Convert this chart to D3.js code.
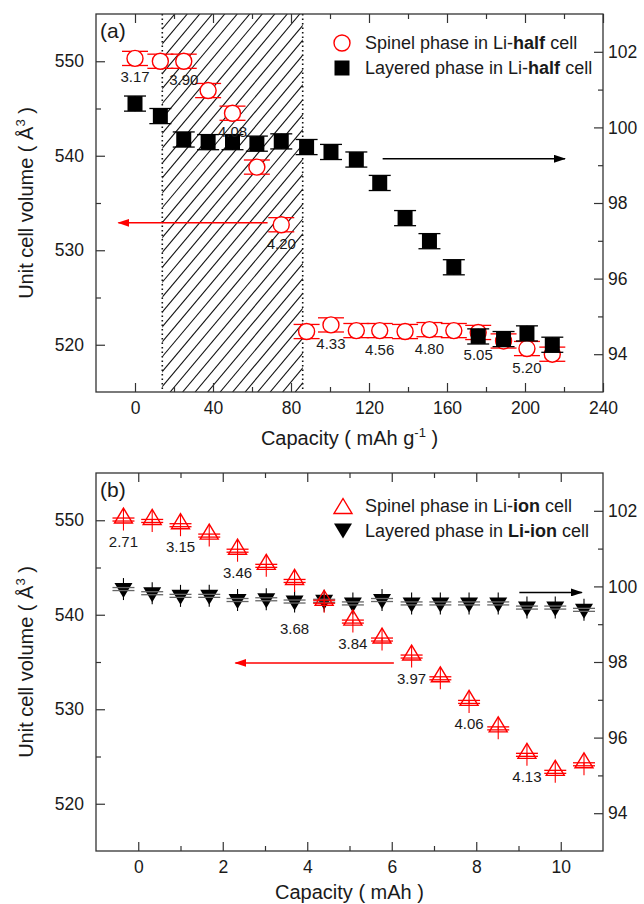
<!DOCTYPE html>
<html>
<head>
<meta charset="utf-8">
<script src="https://cdn.jsdelivr.net/npm/d3@7"></script>
<style>
  body { margin: 0; background: #fff; }
  text { font-family: "Liberation Sans", Arial, sans-serif; fill: #1a1a1a; }
</style>
</head>
<body>
<svg id="chart" width="644" height="904"></svg>
<script>
// ---- panel (a): Li-half cell, capacity in mAh/g
const halfCapacity = [0, 13, 25, 37.5, 50, 62.5, 75, 88, 100.5, 113.5, 125.5, 138.5, 151, 163.5, 176, 189, 201, 214];
const halfSpinel   = [550.3, 550.0, 550.0, 546.9, 544.5, 538.8, 532.7, 521.4, 522.1, 521.5, 521.5, 521.4, 521.6, 521.5, 521.3, 520.4, 519.6, 519.0];
const halfLayered  = [100.63, 100.3, 99.68, 99.61, 99.61, 99.57, 99.63, 99.48, 99.35, 99.15, 98.53, 97.6, 96.99, 96.3, 94.47, 94.4, 94.55, 94.25];
const halfVoltage  = ['3.17', '3.90', '4.08', '4.20', '4.33', '4.56', '4.80', '5.05', '5.20'];
const halfVoltIdx  = [0, 2, 4, 6, 8, 10, 12, 14, 16];
const halfHatch    = [14, 86];               // two-phase region (mAh/g)

// ---- panel (b): Li-ion cell, capacity in mAh
const ionCapacity = [-0.35, 0.33, 1.0, 1.68, 2.35, 3.03, 3.7, 4.4, 5.08, 5.77, 6.47, 7.15, 7.83, 8.52, 9.2, 9.87, 10.55];
const ionSpinel   = [550.5, 550.35, 549.9, 548.8, 547.2, 545.6, 544.0, 541.8, 539.7, 537.8, 536.0, 533.7, 531.2, 528.4, 525.6, 523.8, 524.6];
const ionLayered  = [99.89, 99.78, 99.71, 99.71, 99.6, 99.62, 99.56, 99.58, 99.51, 99.6, 99.51, 99.51, 99.51, 99.51, 99.4, 99.4, 99.34];
const ionVoltage  = ['2.71', '3.15', '3.46', '3.68', '3.84', '3.97', '4.06', '4.13'];
const ionVoltIdx  = [0, 2, 4, 6, 8, 10, 12, 14];

// axes
const volDomain = [515, 555];
const volTicks = [520, 530, 540, 550];
const volMinor = [525, 535, 545];
const latDomain = [93, 103];
const latTicks = [94, 96, 98, 100, 102];
const latMinor = [95, 97, 99, 101];

const RED = '#ff0000';
const svg = d3.select('#chart');
const left = 96, right = 603;

function styleAxis(g, size) {
  g.select('.domain').remove();
  g.selectAll('line').attr('stroke', '#333').attr('stroke-width', 1.2);
  g.attr('font-family', null).attr('font-size', null);
  g.selectAll('text').style('font-size', size + 'px').attr('fill', '#1a1a1a');
}

function drawPanel(p) {
  const x = d3.scaleLinear().domain(p.xDomain).range([left, right]);
  const yL = d3.scaleLinear().domain(volDomain).range([p.bottom, p.top]);
  const yR = d3.scaleLinear().domain(latDomain).range([p.bottom, p.top]);
  const g = svg.append('g');

  // hatched region (panel a only)
  if (p.hatch) {
    const x0 = x(p.hatch[0]), x1 = x(p.hatch[1]);
    const cid = 'clip' + p.name;
    g.append('clipPath').attr('id', cid).append('rect')
      .attr('x', x0).attr('y', p.top).attr('width', x1 - x0).attr('height', p.bottom - p.top);
    const H = p.bottom - p.top, run = H / Math.tan(50 * Math.PI / 180);
    const hg = g.append('g').attr('clip-path', `url(#${cid})`);
    d3.range(x0 - run, x1, 12.5).forEach(s => {
      hg.append('line').attr('x1', s).attr('y1', p.bottom).attr('x2', s + run).attr('y2', p.top)
        .attr('stroke', '#111').attr('stroke-width', 1.1);
    });
    [x0, x1].forEach(v => g.append('line').attr('x1', v).attr('x2', v).attr('y1', p.top).attr('y2', p.bottom)
      .attr('stroke', '#111').attr('stroke-width', 1.6).attr('stroke-dasharray', '1.5,3'));
  }

  // ticks (inward, all sides)
  const bx = g.append('g').attr('transform', `translate(0,${p.bottom})`)
    .call(d3.axisBottom(x).tickValues(p.xTicks).tickSize(-9).tickPadding(9.5).tickSizeOuter(0));
  styleAxis(bx, 17.5);
  const bxm = g.append('g').attr('transform', `translate(0,${p.bottom})`)
    .call(d3.axisBottom(x).tickValues(p.xMinor).tickSize(-5).tickFormat('').tickSizeOuter(0));
  styleAxis(bxm, 17.5);
  const tx = g.append('g').attr('transform', `translate(0,${p.top})`)
    .call(d3.axisTop(x).tickValues(p.xTicks).tickSize(-9).tickFormat('').tickSizeOuter(0));
  styleAxis(tx, 17.5);
  const txm = g.append('g').attr('transform', `translate(0,${p.top})`)
    .call(d3.axisTop(x).tickValues(p.xMinor).tickSize(-5).tickFormat('').tickSizeOuter(0));
  styleAxis(txm, 17.5);
  const ly = g.append('g').attr('transform', `translate(${left},0)`)
    .call(d3.axisLeft(yL).tickValues(volTicks).tickSize(-9).tickPadding(12).tickSizeOuter(0));
  styleAxis(ly, 17.5);
  const lym = g.append('g').attr('transform', `translate(${left},0)`)
    .call(d3.axisLeft(yL).tickValues(volMinor).tickSize(-5).tickFormat('').tickSizeOuter(0));
  styleAxis(lym, 17.5);
  const ry = g.append('g').attr('transform', `translate(${right},0)`)
    .call(d3.axisRight(yR).tickValues(latTicks).tickSize(-9).tickPadding(5).tickSizeOuter(0));
  styleAxis(ry, 17.5);
  const rym = g.append('g').attr('transform', `translate(${right},0)`)
    .call(d3.axisRight(yR).tickValues(latMinor).tickSize(-5).tickFormat('').tickSizeOuter(0));
  styleAxis(rym, 17.5);

  g.append('rect').attr('x', left).attr('y', p.top).attr('width', right - left).attr('height', p.bottom - p.top)
    .attr('fill', 'none').attr('stroke', '#333').attr('stroke-width', 1.3);

  // panel label
  g.append('text').attr('x', left + 4).attr('y', p.top + 24).style('font-size', '21px').text(p.label);

  // axis titles
  const yt = g.append('text').attr('transform', `translate(33,${(p.top + p.bottom) / 2}) rotate(-90)`)
    .attr('text-anchor', 'middle').style('font-size', '20px');
  yt.append('tspan').text('Unit cell volume ( Å');
  yt.append('tspan').attr('dy', -8).style('font-size', '13px').text('3');
  yt.append('tspan').attr('dy', 8).text(' )');
  const xt = g.append('text').attr('x', (left + right) / 2).attr('y', p.bottom + p.titleGap)
    .attr('text-anchor', 'middle').style('font-size', '20px');
  xt.append('tspan').text(p.xUnit);
  if (p.xSup) {
    xt.append('tspan').attr('dy', -8).style('font-size', '13px').text(p.xSup);
    xt.append('tspan').attr('dy', 8).text(' )');
  } else {
    xt.append('tspan').text(' )');
  }

  // arrows
  const defs = g.append('defs');
  [['r', RED], ['k', '#000']].forEach(([k, c]) => {
    defs.append('marker').attr('id', `head${p.name}${k}`).attr('viewBox', '0 0 12 8')
      .attr('refX', 11).attr('refY', 4).attr('markerWidth', 12).attr('markerHeight', 8)
      .attr('markerUnits', 'userSpaceOnUse').attr('orient', 'auto')
      .append('path').attr('d', 'M0,0 L12,4 L0,8 Z').attr('fill', c);
  });
  g.append('line').attr('x1', x(p.redArrow[0])).attr('x2', x(p.redArrow[1]))
    .attr('y1', yL(p.redArrow[2])).attr('y2', yL(p.redArrow[2]))
    .attr('stroke', RED).attr('stroke-width', 1.5).attr('marker-end', `url(#head${p.name}r)`);
  g.append('line').attr('x1', x(p.blackArrow[0])).attr('x2', x(p.blackArrow[1]))
    .attr('y1', yR(p.blackArrow[2])).attr('y2', yR(p.blackArrow[2]))
    .attr('stroke', '#000').attr('stroke-width', 1.5).attr('marker-end', `url(#head${p.name}k)`);

  return { g, x, yL, yR };
}

function errBar(g, cx, ya, yb, capW, color, capColor) {
  g.append('line').attr('x1', cx).attr('x2', cx).attr('y1', ya).attr('y2', yb)
    .attr('stroke', color).attr('stroke-width', 1.1);
  [ya, yb].forEach(v => g.append('line').attr('x1', cx - capW / 2).attr('x2', cx + capW / 2)
    .attr('y1', v).attr('y2', v).attr('stroke', capColor || color).attr('stroke-width', 1.3));
}

const triUp = 'M0,-7.5 L9,7.5 L-9,7.5 Z';
const triDown = 'M0,7.5 L9,-7.5 L-9,-7.5 Z';

function voltLabels(g, xs, ys, ysOther, idx, labels, gap) {
  idx.forEach((i, k) => {
    let base = ys[i];
    // drop the label below the other series when it sits right underneath
    if (ysOther[i] > base && ysOther[i] - base < 28) base = ysOther[i];
    g.append('text').attr('x', xs[i]).attr('y', base + gap).attr('text-anchor', 'middle')
      .style('font-size', '15px').text(labels[k]);
  });
}

// ---------- panel (a)
const A = drawPanel({
  name: 'a', label: '(a)', top: 14, bottom: 392, titleGap: 53,
  xDomain: [-20, 240], xTicks: d3.range(0, 241, 40), xMinor: d3.range(20, 221, 40),
  hatch: halfHatch, xUnit: 'Capacity ( mAh g', xSup: '-1',
  redArrow: [68, -8.5, 532.9], blackArrow: [127, 220.5, 99.17]
});
{
  const { g, x, yL, yR } = A;
  const cs = halfCapacity.map(x), ys = halfSpinel.map(yL), yl = halfLayered.map(yR);
  halfCapacity.forEach((c, i) => {
    errBar(g, cs[i], yL(halfSpinel[i] + 0.75), yL(halfSpinel[i] - 0.75), 26, RED);
    g.append('circle').attr('cx', cs[i]).attr('cy', ys[i]).attr('r', 8)
      .attr('fill', '#fff').attr('stroke', RED).attr('stroke-width', 1.4);
  });
  halfCapacity.forEach((c, i) => {
    errBar(g, cs[i], yR(halfLayered[i] + 0.2), yR(halfLayered[i] - 0.2), 22, '#000');
    g.append('rect').attr('x', cs[i] - 7.5).attr('y', yl[i] - 7.5).attr('width', 15).attr('height', 15).attr('fill', '#000');
  });
  voltLabels(g, cs, ys, yl, halfVoltIdx, halfVoltage, 24);

  // legend
  g.append('circle').attr('cx', 342).attr('cy', 43).attr('r', 8).attr('fill', '#fff').attr('stroke', RED).attr('stroke-width', 1.4);
  g.append('rect').attr('x', 334.5).attr('y', 60.5).attr('width', 15).attr('height', 15).attr('fill', '#000');
  const l1 = g.append('text').attr('x', 365).attr('y', 49).style('font-size', '18px');
  l1.append('tspan').text('Spinel phase in Li-');
  l1.append('tspan').style('font-weight', 'bold').text('half');
  l1.append('tspan').text(' cell');
  const l2 = g.append('text').attr('x', 365).attr('y', 74).style('font-size', '18px');
  l2.append('tspan').text('Layered phase in Li-');
  l2.append('tspan').style('font-weight', 'bold').text('half');
  l2.append('tspan').text(' cell');
}

// ---------- panel (b)
const B = drawPanel({
  name: 'b', label: '(b)', top: 473, bottom: 851, titleGap: 48,
  xDomain: [-1, 11], xTicks: d3.range(0, 11, 2), xMinor: d3.range(1, 10, 2),
  hatch: null, xUnit: 'Capacity ( mAh', xSup: null,
  redArrow: [6.05, 2.3, 534.9], blackArrow: [9.02, 10.5, 99.84]
});
{
  const { g, x, yL, yR } = B;
  const cs = ionCapacity.map(x), ys = ionSpinel.map(yL), yl = ionLayered.map(yR);
  ionCapacity.forEach((c, i) => {
    errBar(g, cs[i], yl[i] - 12.5, yl[i] + 9.5, 0, '#000');
    g.append('path').attr('d', triDown).attr('transform', `translate(${cs[i]},${yl[i]})`).attr('fill', '#000');
    [yl[i] - 3, yl[i]].forEach(v => g.append('line').attr('x1', cs[i] - 11).attr('x2', cs[i] + 11)
      .attr('y1', v).attr('y2', v).attr('stroke', '#666').attr('stroke-width', 1.3));
  });
  ionCapacity.forEach((c, i) => {
    g.append('path').attr('d', triUp).attr('transform', `translate(${cs[i]},${ys[i]})`)
      .attr('fill', 'none').attr('stroke', RED).attr('stroke-width', 1.4);
    errBar(g, cs[i], ys[i] + 2.5, ys[i] + 5.5, 22, RED);
    g.append('line').attr('x1', cs[i]).attr('x2', cs[i]).attr('y1', ys[i] - 7).attr('y2', ys[i] + 15)
      .attr('stroke', RED).attr('stroke-width', 1.1);
  });
  voltLabels(g, cs, ys, yl, ionVoltIdx, ionVoltage, 31);

  // legend
  g.append('path').attr('d', triUp).attr('transform', 'translate(343,506)')
    .attr('fill', 'none').attr('stroke', RED).attr('stroke-width', 1.4);
  g.append('path').attr('d', triDown).attr('transform', 'translate(343,531)').attr('fill', '#000');
  const l1 = g.append('text').attr('x', 365).attr('y', 512).style('font-size', '18px');
  l1.append('tspan').text('Spinel phase in Li-');
  l1.append('tspan').style('font-weight', 'bold').text('ion');
  l1.append('tspan').text(' cell');
  const l2 = g.append('text').attr('x', 365).attr('y', 537).style('font-size', '18px');
  l2.append('tspan').text('Layered phase in ');
  l2.append('tspan').style('font-weight', 'bold').text('Li-ion');
  l2.append('tspan').text(' cell');
}
</script>
</body>
</html>
